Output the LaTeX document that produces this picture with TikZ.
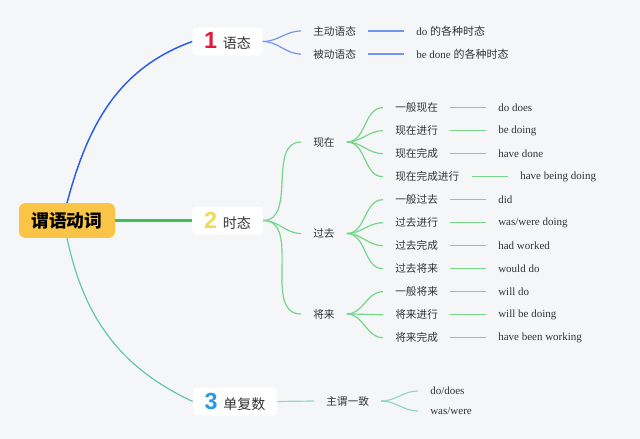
\documentclass[tikz,border=0pt]{standalone}
\usepackage{fontspec}
\setmainfont{Liberation Serif}
\newfontfamily\cjk{Noto Sans CJK SC}
\newfontfamily\numfont{Liberation Sans}
\definecolor{bgcol}{HTML}{F5F6F8}
\definecolor{rootyellow}{HTML}{FAC546}
\definecolor{textgray}{HTML}{333333}
\definecolor{numred}{HTML}{E2193B}
\definecolor{numyellow}{HTML}{F0DA55}
\definecolor{numblue}{HTML}{2A98E0}
\definecolor{bluemain}{HTML}{2B5CE6}
\definecolor{bluelight}{HTML}{7395F0}
\definecolor{greenmain}{HTML}{3CC15A}
\definecolor{greenlight}{HTML}{74D688}
\definecolor{tealmain}{HTML}{62C9A2}
\definecolor{teallight}{HTML}{92D9BD}
\newcommand{\tnum}[2]{{\numfont\bfseries\fontsize{17.5}{18}\selectfont\color{#1}#2}\hspace{4.5pt}}

\begin{document}
\begin{tikzpicture}[x=0.75pt, y=-0.75pt,
  rootbox/.style={fill=rootyellow, rounded corners=4.5pt, minimum width=72pt, minimum height=26pt,
    inner sep=0pt, font=\cjk\bfseries\fontsize{13.3}{16}\selectfont, text=black},
  topicbox/.style={fill=white, rounded corners=3pt, minimum height=21pt, inner sep=0pt,
    font=\cjk\fontsize{10.5}{12}\selectfont, text=textgray},
  subtopic/.style={anchor=west, inner xsep=9pt, inner ysep=2pt, font=\cjk\fontsize{8}{10}\selectfont, text=textgray},
  leaf/.style={anchor=west, inner xsep=9pt, inner ysep=2pt, font=\fontsize{8.25}{10}\selectfont, text=textgray},
  bluethin/.style={draw=bluelight, line width=0.9pt},
  greenthin/.style={draw=greenlight, line width=0.9pt},
  tealthin/.style={draw=teallight, line width=0.9pt}]
  \fill[bgcol] (0,0) rectangle (640,439);

  % centre and main topics
  \node[rootbox] (root) at (67,220.5) {谓语动词};
  \node[topicbox, minimum width=52.5pt] (yutai) at (227.5,41.5) {\tnum{numred}{1}语态};
  \node[topicbox, minimum width=53pt] (shitai) at (227.5,220.5) {\tnum{numyellow}{2}时态};
  \node[topicbox, minimum width=63pt] (danfu) at (235,401.5) {\tnum{numblue}{3}单复数};
  \draw[bluemain, line width=1.1pt] (root.north) to[out=75,in=200] (yutai.west);
  \draw[greenmain, line width=2.6pt] (root.east) -- (shitai.west);
  \draw[tealmain, line width=0.9pt] (root.south) to[out=-78,in=155] (danfu.west);

  % 语态
  \foreach \n/\t/\v/\y in {zd/主动语态/{do {\cjk 的各种时态}}/31, bd/被动语态/{be done {\cjk 的各种时态}}/54} {
    \node[subtopic] (\n) at (301,\y) {\t};
    \node[leaf] (v\n) at (404,\y) {\v};
    \draw[bluethin] (yutai.east) to[out=0,in=180] (\n.west);
    \draw[bluethin] (\n.east) -- (v\n.west);
  }

  % 时态
  \node[subtopic] (xz) at (301,142) {现在};
  \node[subtopic] (gq) at (301,233.5) {过去};
  \node[subtopic] (jl) at (301,314) {将来};
  \foreach \n in {xz,gq,jl}
    \draw[greenthin] (shitai.east) to[out=0,in=180] (\n.west);
  \foreach \p/\t/\v/\lx [count=\i] in {xz/一般现在/do does/486, xz/现在进行/be doing/486,
      xz/现在完成/have done/486, xz/现在完成进行/have being doing/508,
      gq/一般过去/did/486, gq/过去进行/{was/were doing}/486, gq/过去完成/had worked/486,
      gq/过去将来/would do/486, jl/一般将来/will do/486, jl/将来进行/will be doing/486,
      jl/将来完成/have been working/486} {
    \node[subtopic] (r\i) at (383,{84.7+23*\i}) {\t};
    \node[leaf] (v\i) at (\lx,{84.7+23*\i}) {\v};
    \draw[greenthin] (\p.east) to[out=0,in=180] (r\i.west);
    \draw[greenthin] (r\i.east) -- (v\i.west);
  }

  % 单复数
  \node[subtopic] (zw) at (314,401) {主谓一致};
  \draw[tealthin] (danfu.east) -- (zw.west);
  \foreach \n/\v/\y in {dd/{do/does}/391, ww/{was/were}/411} {
    \node[leaf] (\n) at (418,\y) {\v};
    \draw[tealthin] (zw.east) to[out=0,in=180] (\n.west);
  }
\end{tikzpicture}
\end{document}
